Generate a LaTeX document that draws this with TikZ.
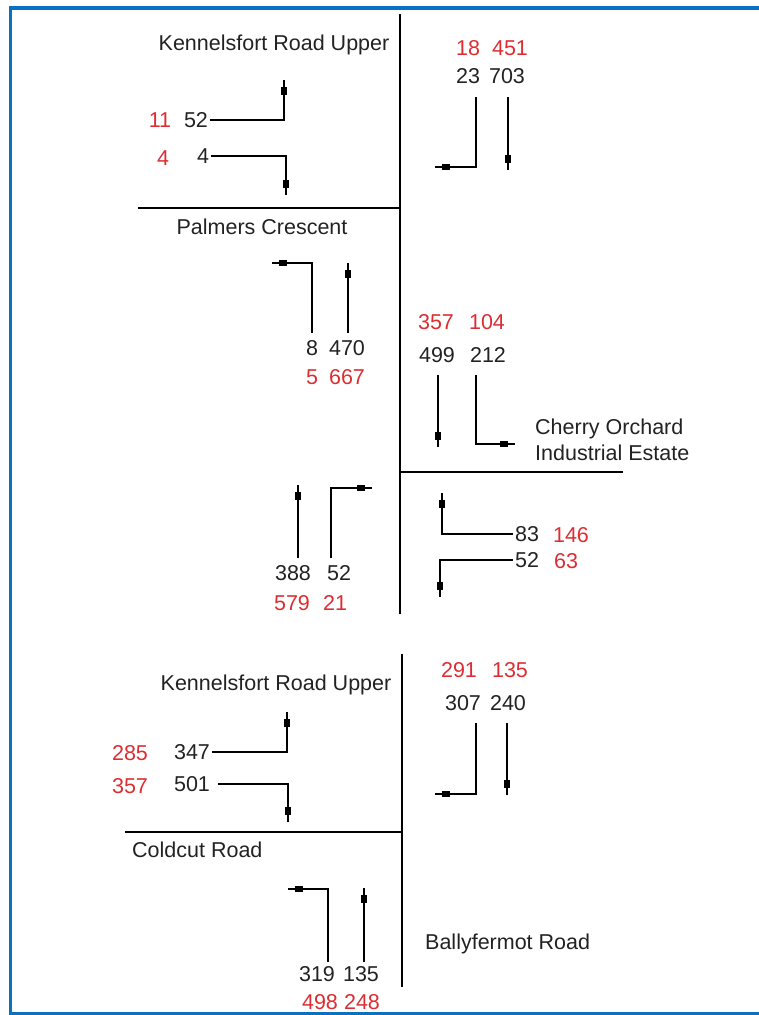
\documentclass[tikz,border=0pt]{standalone}
\usepackage{fontspec}
\setmainfont{Liberation Sans}
\usetikzlibrary{decorations.markings}
\definecolor{frameblue}{RGB}{10,112,192}
\definecolor{countred}{RGB}{220,45,50}
\definecolor{countgrey}{RGB}{34,34,34}
\tikzset{
  lbl/.style={font=\fontsize{21.5}{25}\selectfont, inner sep=2pt, text height=15pt, text depth=0pt},
  numk/.style={lbl, text=countgrey},
  numr/.style={lbl, text=countred},
  roadname/.style={lbl, text=countgrey},
  roadline/.style={draw, line width=1.4pt},
  flow/.style={draw, line width=1.3pt,
    decoration={markings, mark=at position -11pt with {\fill (-4,-3) rectangle (4,3);}},
    postaction={decorate}},
}
\begin{document}
\begin{tikzpicture}[x=1pt,y=-1pt]
\useasboundingbox (0,0) rectangle (759,1015);
\begin{scope}
    %——————————————————————————————————————————————
    % Marco azul (arriba, izquierda, abajo)
    %——————————————————————————————————————————————
    \fill[frameblue] (9,6) rectangle (759,10);
    \fill[frameblue] (9,6) rectangle (12,1015);
    \fill[frameblue] (9,1012) rectangle (759,1015);

    %——————————————————————————————————————————————
    % Cruce superior: calles
    %——————————————————————————————————————————————
    \draw[roadline] (400,14) -- (400,614);
    \draw[roadline] (138,208) -- (400,208);
    \draw[roadline] (400,472) -- (623,472);

    \node[roadname] (kru) at (274,43) {Kennelsfort Road Upper};
    \node[roadname] (palm) at (262,227) {Palmers Crescent};
    \node[roadname, anchor=west] (cherry) at (533,427) {Cherry Orchard};
    \node[roadname, anchor=west] (estate) at (533,453) {Industrial Estate};

    %——————————————————————————————————————————————
    % Kennelsfort Road Upper (oeste)
    %——————————————————————————————————————————————
    \node[numr] (r11) at (160,120) {11};
    \node[numk] (k52) at (196,120) {52};
    \node[numr] (r4) at (163,158) {4};
    \node[numk] (k4) at (203,156) {4};
    \coordinate (e52) at (284,80);
    \coordinate (e4) at (286,195);
    \draw[flow] (k52.east) -| (e52);
    \draw[flow] (k4.east) -| (e4);

    %——————————————————————————————————————————————
    % Kennelsfort Road Upper (este)
    %——————————————————————————————————————————————
    \node[numr] (r18) at (468,48) {18};
    \node[numr] (r451) at (510,48) {451};
    \node[numk] (k23) at (468,76) {23};
    \node[numk] (k703) at (507,76) {703};
    \coordinate (s23) at (476,97);
    \coordinate (e23) at (435,167);
    \coordinate (s703) at (508,97);
    \coordinate (e703) at (508,170);
    \draw[flow] (s23) |- (e23);
    \draw[flow] (s703) -- (e703);

    %——————————————————————————————————————————————
    % Palmers Crescent
    %——————————————————————————————————————————————
    \node[numk] (k8) at (312,348) {8};
    \node[numk] (k470) at (347,348) {470};
    \node[numr] (r5) at (312,377) {5};
    \node[numr] (r667) at (347,377) {667};
    \coordinate (s8) at (312,333);
    \coordinate (e8) at (272,263);
    \coordinate (s470) at (348,333);
    \coordinate (e470) at (348,263);
    \draw[flow] (s8) |- (e8);
    \draw[flow] (s470) -- (e470);

    %——————————————————————————————————————————————
    % Cherry Orchard (norte)
    %——————————————————————————————————————————————
    \node[numr] (r357) at (436,322) {357};
    \node[numr] (r104) at (487,322) {104};
    \node[numk] (k499) at (437,355) {499};
    \node[numk] (k212) at (488,355) {212};
    \coordinate (s499) at (438,375);
    \coordinate (e499) at (438,447);
    \coordinate (s212) at (476,375);
    \coordinate (e212) at (515,444);
    \draw[flow] (s499) -- (e499);
    \draw[flow] (s212) |- (e212);

    %——————————————————————————————————————————————
    % Cherry Orchard (sur)
    %——————————————————————————————————————————————
    \node[numk] (k388) at (293,573) {388};
    \node[numk] (k52b) at (339,573) {52};
    \node[numr] (r579) at (292,603) {579};
    \node[numr] (r21) at (335,603) {21};
    \coordinate (s388) at (298,558);
    \coordinate (e388) at (298,485);
    \coordinate (s52b) at (331,558);
    \coordinate (e52b) at (372,488);
    \draw[flow] (s388) -- (e388);
    \draw[flow] (s52b) |- (e52b);

    \node[numk] (k83) at (527,534) {83};
    \node[numr] (r146) at (571,535) {146};
    \node[numk] (k52c) at (527,560) {52};
    \node[numr] (r63) at (566,561) {63};
    \coordinate (e83) at (442,493);
    \coordinate (e52c) at (440,597);
    \draw[flow] (k83.west) -| (e83);
    \draw[flow] (k52c.west) -| (e52c);

    %——————————————————————————————————————————————
    % Cruce inferior: calles
    %——————————————————————————————————————————————
    \draw[roadline] (402,654) -- (402,987);
    \draw[roadline] (125,832) -- (402,832);

    \node[roadname] (kru2) at (276,683) {Kennelsfort Road Upper};
    \node[roadname, anchor=west] (cold) at (130,850) {Coldcut Road};
    \node[roadname, anchor=west] (bally) at (423,942) {Ballyfermot Road};

    %——————————————————————————————————————————————
    % Kennelsfort Road Upper (oeste)
    %——————————————————————————————————————————————
    \node[numr] (r285) at (130,753) {285};
    \node[numk] (k347) at (192,752) {347};
    \node[numr] (r357b) at (130,786) {357};
    \node[numk] (k501) at (192,784) {501};
    \coordinate (e347) at (287,712);
    \coordinate (e501) at (288,822);
    \draw[flow] (k347.east) -| (e347);
    \draw[flow] ([xshift=6pt]k501.east) -| (e501);

    %——————————————————————————————————————————————
    % Kennelsfort Road Upper (este)
    %——————————————————————————————————————————————
    \node[numr] (r291) at (459,670) {291};
    \node[numr] (r135) at (510,670) {135};
    \node[numk] (k307) at (463,703) {307};
    \node[numk] (k240) at (508,703) {240};
    \coordinate (s307) at (476,723);
    \coordinate (e307) at (435,794);
    \coordinate (s240) at (507,723);
    \coordinate (e240) at (507,795);
    \draw[flow] (s307) |- (e307);
    \draw[flow] (s240) -- (e240);

    %——————————————————————————————————————————————
    % Coldcut Road
    %——————————————————————————————————————————————
    \node[numk] (k319) at (317,974) {319};
    \node[numk] (k135) at (361,974) {135};
    \node[numr] (r498) at (320,1002) {498};
    \node[numr] (r248) at (362,1002) {248};
    \coordinate (s319) at (328,962);
    \coordinate (e319) at (288,889);
    \coordinate (s135) at (364,962);
    \coordinate (e135) at (364,888);
    \draw[flow] (s319) |- (e319);
    \draw[flow] (s135) -- (e135);
\end{scope}
\end{tikzpicture}
\end{document}
